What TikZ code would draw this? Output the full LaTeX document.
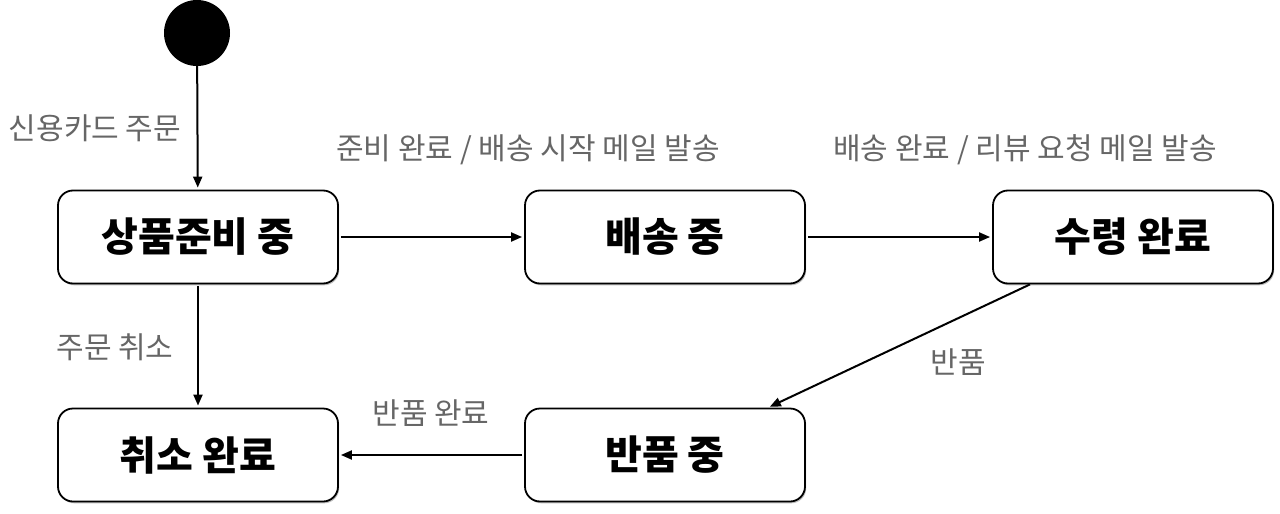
\documentclass[tikz,border=0pt]{standalone}
\usepackage{fontspec}
\setmainfont{Noto Sans CJK KR}
\usetikzlibrary{arrows.meta,shadows}
\definecolor{lblgray}{HTML}{666666}
\tikzset{
  statebox/.style={draw=black, line width=1.8pt, rounded corners=15pt, fill=white,
    minimum width=280pt, minimum height=93pt, inner sep=0pt,
    font=\fontsize{40}{44}\selectfont\bfseries,
    drop shadow={shadow xshift=1.2pt, shadow yshift=-1.8pt, opacity=0.25, fill=black}},
  initstate/.style={circle, fill=black, minimum size=66pt, inner sep=0pt},
  lbl/.style={text=lblgray, font=\fontsize{30}{32}\selectfont, inner sep=0pt},
  trans/.style={line width=2pt, -{Triangle[length=11pt,width=9pt]}, shorten >=2pt, shorten <=2pt}
}
\begin{document}
\begin{tikzpicture}[x=1pt,y=-1pt]
\useasboundingbox (0,0) rectangle (1280,514);
\node[initstate] (init) at (197,33) {};
\node[statebox] (prep) at (198,237) {상품준비 중};
\node[statebox] (ship) at (665,237) {배송 중};
\node[statebox] (recv) at (1133,237) {수령 완료};
\node[statebox] (cancel) at (198,455) {취소 완료};
\node[statebox] (ret) at (665,455) {반품 중};

\draw[trans, shorten <=0pt] (init) -- (prep);
\draw[trans] (prep) -- (ship);
\draw[trans] (ship) -- (recv);
\draw[trans] (prep) -- (cancel);
\draw[trans, shorten <=0pt] ([xshift=-103pt]recv.south) -- ([xshift=103pt]ret.north);
\draw[trans] (ret) -- (cancel);

\node[lbl] (l1) at (95,128) {신용카드 주문};
\node[lbl] (l2) at (528,150) {준비 완료 / 배송 시작 메일 발송};
\node[lbl] (l3) at (1025,150) {배송 완료 / 리뷰 요청 메일 발송};
\node[lbl] (l4) at (115,347) {주문 취소};
\node[lbl] (l5) at (958,362) {반품};
\node[lbl] (l6) at (431,413) {반품 완료};
\end{tikzpicture}
\end{document}
